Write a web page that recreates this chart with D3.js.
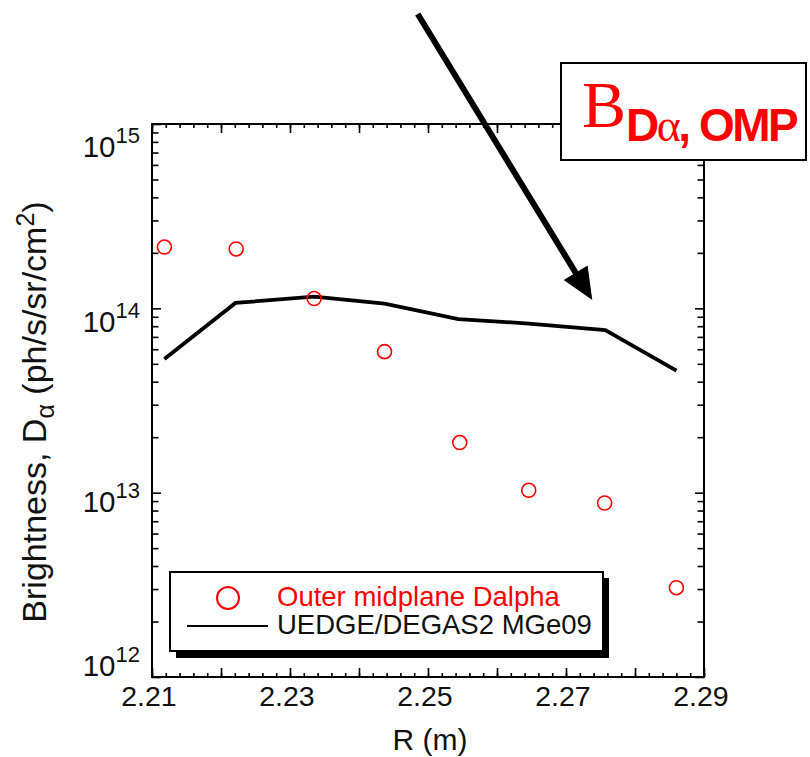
<!DOCTYPE html>
<html><head><meta charset="utf-8">
<script src="https://cdn.jsdelivr.net/npm/d3@7"></script>
<style>body{margin:0;background:#fff}svg{display:block}</style>
</head><body>
<script>
// ---- data ----
const ompR = [2.2118, 2.2222, 2.2335, 2.2437, 2.2546, 2.2646, 2.2756, 2.2860];
const ompVals = [2.15e14, 2.10e14, 1.13e14, 5.82e13, 1.87e13, 1.03e13, 8.79e12, 3.05e12];
const uedgeR = [2.2118, 2.2221, 2.2335, 2.2437, 2.2544, 2.2646, 2.2757, 2.2860];
const uedgeVals = [5.31e13, 1.07e14, 1.156e14, 1.062e14, 8.75e13, 8.27e13, 7.63e13, 4.59e13];
const xTickLabels = [2.21, 2.23, 2.25, 2.27, 2.29];
const yDecades = [12, 13, 14, 15];
const legendLabels = ["Outer midplane Dalpha", "UEDGE/DEGAS2 MGe09"];

const W = 810, H = 757;
const L = 152, R = 704, T = 124, B = 677;
const FONT = "'Liberation Sans', Arial, Helvetica, sans-serif";
const SERIF = "'Liberation Serif', 'Times New Roman', serif";

const svg = d3.select("body").append("svg").attr("width", W).attr("height", H);
const x = d3.scaleLinear().domain([2.21, 2.29]).range([L, R]);
const y = d3.scaleLog().domain([1e12, 1e15]).range([B, T]);

// ticks
const xMajor = d3.range(0, 9).map(i => +(2.21 + i * 0.01).toFixed(3));
const xMinor = d3.range(0, 41).map(i => +(2.21 + i * 0.002).toFixed(4));
const yMajor = yDecades.map(e => Math.pow(10, e));
const yMinor = [];
yDecades.slice(0, -1).forEach(e => { for (let m = 2; m <= 9; m++) yMinor.push(m * Math.pow(10, e)); });

function addAxis(gen, tx, ty) {
  const g = svg.append("g").attr("transform", `translate(${tx},${ty})`).call(gen);
  g.select(".domain").remove();
  g.selectAll(".tick line").attr("stroke", "#000").attr("stroke-width", 1.6);
}
addAxis(d3.axisBottom(x).tickValues(xMinor).tickSize(-4).tickFormat(""), 0, B);
addAxis(d3.axisBottom(x).tickValues(xMajor).tickSize(-9).tickFormat(""), 0, B);
addAxis(d3.axisTop(x).tickValues(xMinor).tickSize(-4).tickFormat(""), 0, T);
addAxis(d3.axisTop(x).tickValues(xMajor).tickSize(-9).tickFormat(""), 0, T);
addAxis(d3.axisLeft(y).tickValues(yMinor).tickSize(-6.5).tickFormat(""), L, 0);
addAxis(d3.axisLeft(y).tickValues(yMajor).tickSize(-9).tickFormat(""), L, 0);
addAxis(d3.axisRight(y).tickValues(yMinor).tickSize(-6.5).tickFormat(""), R, 0);
addAxis(d3.axisRight(y).tickValues(yMajor).tickSize(-9).tickFormat(""), R, 0);

// frame
svg.append("rect").attr("x", L).attr("y", T).attr("width", R - L).attr("height", B - T)
  .attr("fill", "none").attr("stroke", "#000").attr("stroke-width", 2);

// x tick labels
svg.append("g").selectAll("text").data(xTickLabels).join("text")
  .attr("x", d => x(d) - 3).attr("y", 706)
  .attr("text-anchor", "middle").attr("font-family", FONT).attr("font-size", 28.5)
  .attr("fill", "#111").text(d => d.toFixed(2));

// y tick labels (10^n)
const yNudge = {12: -1, 13: 19, 14: 24, 15: 33};
const yl = svg.append("g").selectAll("text").data(yDecades).join("text")
  .attr("x", 140).attr("y", d => y(Math.pow(10, d)) + yNudge[d])
  .attr("text-anchor", "end").attr("font-family", FONT).attr("font-size", 29.5).attr("fill", "#111");
yl.append("tspan").text("10");
yl.append("tspan").attr("dy", -14).attr("font-size", 22).text(d => d);

// axis labels
svg.append("text").attr("x", 430).attr("y", 750).attr("text-anchor", "middle")
  .attr("font-family", FONT).attr("font-size", 30).attr("fill", "#111").text("R (m)");
const ylab = svg.append("text").attr("transform", "translate(46,412) rotate(-90)")
  .attr("text-anchor", "middle").attr("font-family", FONT).attr("font-size", 34).attr("fill", "#111");
ylab.append("tspan").text("Brightness, D");
ylab.append("tspan").attr("dy", 8).attr("font-size", 25).text("α");
ylab.append("tspan").attr("dy", -8).text(" (ph/s/sr/cm");
ylab.append("tspan").attr("dy", -12).attr("font-size", 25).text("2");
ylab.append("tspan").attr("dy", 12).text(")");

// model line
const lineData = uedgeR.map((r, i) => [r, uedgeVals[i]]);
svg.append("path").datum(lineData)
  .attr("d", d3.line().x(d => x(d[0])).y(d => y(d[1])))
  .attr("fill", "none").attr("stroke", "#000").attr("stroke-width", 3.8).attr("stroke-linejoin", "miter");

// measured points
svg.append("g").selectAll("circle").data(ompR.map((r, i) => [r, ompVals[i]])).join("circle")
  .attr("cx", d => x(d[0])).attr("cy", d => y(d[1])).attr("r", 7)
  .attr("fill", "none").attr("stroke", "#ff0000").attr("stroke-width", 1.6);

// legend
const lg = svg.append("g");
lg.append("rect").attr("x", 176).attr("y", 578).attr("width", 433).attr("height", 80).attr("fill", "#000");
lg.append("rect").attr("x", 170).attr("y", 572).attr("width", 433).attr("height", 79)
  .attr("fill", "#fff").attr("stroke", "#000").attr("stroke-width", 2);
lg.append("circle").attr("cx", 228).attr("cy", 598).attr("r", 11)
  .attr("fill", "none").attr("stroke", "#ff0000").attr("stroke-width", 2);
lg.append("text").attr("x", 277).attr("y", 606).attr("font-family", FONT).attr("font-size", 27.5)
  .attr("fill", "#ff0000").text(legendLabels[0]);
lg.append("line").attr("x1", 187).attr("x2", 268).attr("y1", 626).attr("y2", 626)
  .attr("stroke", "#000").attr("stroke-width", 2.2);
lg.append("text").attr("x", 277).attr("y", 634).attr("font-family", FONT).attr("font-size", 27.5)
  .attr("fill", "#111").text(legendLabels[1]);

// arrow annotation
const a0 = [417.7, 14], a1 = [592.3, 300];
const dx = a1[0] - a0[0], dy = a1[1] - a0[1], len = Math.hypot(dx, dy);
const ux = dx / len, uy = dy / len, hl = 32, hw = 14;
const bx = a1[0] - ux * hl, by = a1[1] - uy * hl;
svg.append("line").attr("x1", a0[0]).attr("y1", a0[1]).attr("x2", bx + ux * 2).attr("y2", by + uy * 2)
  .attr("stroke", "#000").attr("stroke-width", 6);
svg.append("path").attr("d", `M${a1[0]},${a1[1]}L${bx - uy * hw},${by + ux * hw}L${bx + uy * hw},${by - ux * hw}Z`)
  .attr("fill", "#000");

// title box annotation
svg.append("rect").attr("x", 561).attr("y", 63).attr("width", 245).attr("height", 97)
  .attr("fill", "#fff").attr("stroke", "#000").attr("stroke-width", 2);
const ttl = svg.append("text").attr("x", 582).attr("y", 127).attr("font-family", SERIF)
  .attr("font-size", 66).attr("fill", "#ff0000");
ttl.append("tspan").text("B");
const sub = ttl.append("tspan").attr("x", 626).attr("y", 141).attr("font-family", FONT)
  .attr("font-weight", "bold").attr("font-size", 46).attr("letter-spacing", -2.5);
sub.append("tspan").text("D");
sub.append("tspan").attr("font-family", SERIF).attr("font-weight", "normal").text("α");
sub.append("tspan").text(", OMP");
</script>
</body></html>
